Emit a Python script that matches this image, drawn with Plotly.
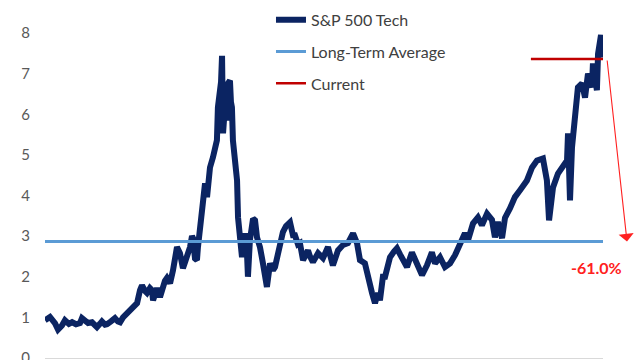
import plotly.graph_objects as go

# S&P 500 Tech series (decimal years)
years = [1989.50, 1989.80, 1990.11, 1990.29, 1990.53, 1990.71, 1990.95, 1991.14, 1991.38, 1991.62,
         1991.74, 1991.92, 1992.11, 1992.35, 1992.65, 1992.83, 1992.95, 1993.14, 1993.26, 1993.50,
         1993.74, 1993.92, 1994.05, 1994.23, 1994.35, 1994.59, 1994.77, 1994.95, 1995.08, 1995.26,
         1995.38, 1995.56, 1995.68, 1995.86, 1995.98, 1996.05, 1996.17, 1996.29, 1996.47, 1996.65,
         1996.77, 1996.89, 1997.08, 1997.26, 1997.38, 1997.50, 1997.68, 1997.86, 1997.98, 1998.11,
         1998.29, 1998.41, 1998.47, 1998.59, 1998.71, 1998.77, 1998.89, 1999.02, 1999.08, 1999.20,
         1999.32, 1999.50, 1999.68, 1999.80, 1999.92, 1999.98, 2000.11, 2000.17, 2000.23, 2000.29,
         2000.41, 2000.53, 2000.59, 2000.71, 2000.77, 2000.83, 2000.89, 2001.02, 2001.14, 2001.20,
         2001.32, 2001.44, 2001.62, 2001.74, 2001.80, 2001.92, 2002.11, 2002.23, 2002.35, 2002.53,
         2002.71, 2002.83, 2002.95, 2003.14, 2003.32, 2003.44, 2003.62, 2003.74, 2003.92, 2004.11,
         2004.35, 2004.53, 2004.65, 2004.83, 2004.95, 2005.14, 2005.26, 2005.44, 2005.56, 2005.74,
         2006.05, 2006.35, 2006.65, 2006.95, 2007.26, 2007.56, 2007.86, 2008.17, 2008.41, 2008.59,
         2008.89, 2009.08, 2009.32, 2009.50, 2009.68, 2009.80, 2009.98, 2010.11, 2010.29, 2010.41,
         2010.65, 2010.83, 2011.02, 2011.20, 2011.44, 2011.74, 2012.05, 2012.35, 2012.65, 2012.95,
         2013.14, 2013.44, 2013.74, 2014.05, 2014.35, 2014.65, 2014.95, 2015.14, 2015.44, 2015.74,
         2015.98, 2016.29, 2016.59, 2016.77, 2016.95, 2017.20, 2017.38, 2017.68, 2017.98, 2018.29,
         2018.71, 2019.02, 2019.32, 2019.68, 2019.92, 2020.05, 2020.29, 2020.59, 2020.89, 2021.14,
         2021.20, 2021.32, 2021.44, 2021.62, 2021.80, 2022.05, 2022.23, 2022.41, 2022.65, 2022.71,
         2022.95, 2023.02, 2023.20, 2023.32]
tech = [0.93, 1.01, 0.85, 0.70, 0.80, 0.93, 0.84, 0.88, 0.83, 0.86,
        0.98, 0.92, 0.86, 0.88, 0.76, 0.84, 0.90, 0.82, 0.83, 0.90,
        0.98, 0.90, 0.88, 1.00, 1.05, 1.15, 1.20, 1.28, 1.35, 1.67,
        1.79, 1.65, 1.60, 1.72, 1.67, 1.42, 1.60, 1.72, 1.50, 1.79,
        1.90, 1.97, 1.84, 2.16, 2.45, 2.73, 2.58, 2.21, 2.35, 2.49,
        2.73, 3.00, 2.95, 2.45, 2.41, 2.73, 3.14, 3.64, 4.05, 4.30,
        3.96, 4.69, 4.94, 5.10, 5.36, 6.17, 6.50, 6.80, 7.44, 5.53,
        6.20, 5.85, 6.76, 6.83, 6.30, 6.17, 5.36, 4.90, 4.37, 3.46,
        2.90, 2.48, 3.07, 2.60, 2.00, 2.90, 3.43, 3.39, 2.97, 2.73,
        2.33, 2.10, 1.75, 2.33, 2.16, 2.24, 2.58, 2.73, 3.10, 3.25,
        3.34, 3.02, 3.02, 2.80, 2.83, 2.41, 2.55, 2.65, 2.50, 2.36,
        2.58, 2.46, 2.73, 2.28, 2.65, 2.78, 2.83, 3.07, 2.83, 2.41,
        2.33, 1.92, 1.60, 1.35, 1.60, 1.42, 2.00, 2.00, 2.41, 2.48,
        2.62, 2.70, 2.55, 2.41, 2.24, 2.60, 2.33, 2.04, 2.28, 2.60,
        2.33, 2.48, 2.24, 2.33, 2.53, 2.85, 3.07, 2.90, 3.31, 3.46,
        3.27, 3.55, 3.40, 2.97, 3.35, 2.95, 3.45, 3.68, 3.96, 4.13,
        4.37, 4.69, 4.86, 4.91, 4.37, 3.39, 4.20, 4.54, 4.69, 4.86,
        5.53, 3.88, 5.18, 5.85, 6.66, 6.76, 6.41, 7.00, 6.66, 7.25,
        6.59, 7.49, 7.95, 7.40]

long_term_avg = 2.87
current_value = 7.36
current_start = 2018.95
y_ticks = [0, 1, 2, 3, 4, 5, 6, 7, 8]

NAVY = "#0B2462"
LIGHT = "#5B9BD5"
RED = "#C00000"
FONT = "Lato"

fig = go.Figure()
fig.add_trace(go.Scatter(x=years, y=tech, mode="lines", name="S&P 500 Tech",
                         legendgroup="a", line=dict(color=NAVY, width=6)))
fig.add_trace(go.Scatter(x=[years[0], years[-1]], y=[long_term_avg, long_term_avg], mode="lines",
                         name="Long-Term Average", legendgroup="b", line=dict(color=LIGHT, width=3)))
fig.add_trace(go.Scatter(x=[current_start, years[-1]], y=[current_value, current_value], mode="lines",
                         name="Current", legendgroup="c", line=dict(color=RED, width=2.5)))

pct = (long_term_avg / current_value - 1) * 100

fig.add_annotation(x=1.043, xref="paper", y=long_term_avg, yref="y",
                   ax=-20, axref="pixel", ay=current_value, ayref="y",
                   text="", showarrow=True, arrowhead=1, arrowsize=2.3, arrowwidth=1.1,
                   arrowcolor="#FF2020")
fig.add_annotation(x=0.989, xref="paper", xanchor="center", y=2.24, yref="y", yanchor="middle",
                   text=f"{pct:.1f}%", showarrow=False,
                   font=dict(family=FONT, size=16, color="#FF2020", weight="bold"))

fig.update_layout(
    width=640, height=360,
    margin=dict(l=45, r=37, t=33, b=2, autoexpand=False),
    paper_bgcolor="white", plot_bgcolor="white",
    font=dict(family=FONT, size=14, color="#595959"),
    showlegend=True,
    hovermode=False,
    legend=dict(x=0.405, y=1.093, xanchor="left", yanchor="top", tracegroupgap=8,
                font=dict(family=FONT, size=16, color="#404040"), bgcolor="rgba(0,0,0,0)"),
    xaxis=dict(range=[years[0], years[-1]], showgrid=False, zeroline=False,
               showline=True, linecolor="#D9D9D9", linewidth=1, showticklabels=False, ticks=""),
    yaxis=dict(range=[0, 8], tickvals=y_ticks, showgrid=False, zeroline=False, showline=False,
               ticklabelstandoff=14, ticklabeloverflow="allow",
               tickfont=dict(family=FONT, size=15, color="#595959")),
)

fig.write_html("out.html", config={"displayModeBar": False},
               post_script="document.body.style.margin='0';")
